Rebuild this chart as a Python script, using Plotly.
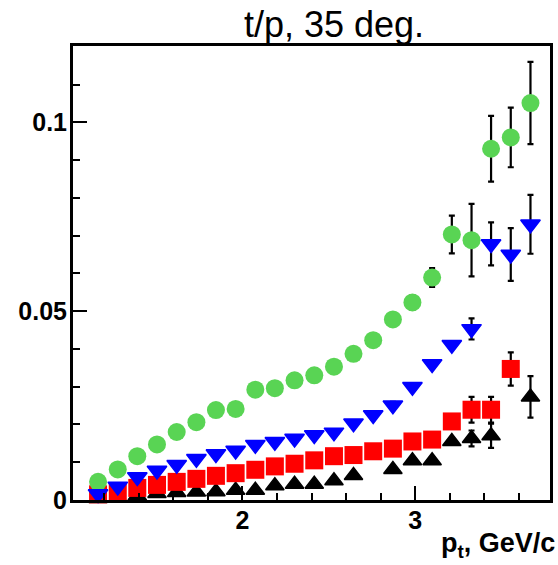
import plotly.graph_objects as go

# transverse momentum bin centres (GeV/c)
pt = [1.165, 1.279, 1.392, 1.506, 1.620, 1.734, 1.847, 1.961, 2.075, 2.188, 2.302, 2.416,
      2.530, 2.643, 2.757, 2.871, 2.984, 3.098, 3.212, 3.326, 3.439, 3.553, 3.667]

green_y = [0.0048, 0.0081, 0.0116, 0.0147, 0.0180, 0.0206, 0.0238, 0.0241, 0.0292, 0.0296, 0.0317, 0.0330,
           0.0353, 0.0387, 0.0423, 0.0478, 0.0523, 0.0589, 0.0703, 0.0688, 0.0930, 0.0960, 0.1051]
green_err = [0.0006, 0.0007, 0.0008, 0.0008, 0.0009, 0.0009, 0.0010, 0.0010, 0.0011, 0.0011, 0.0012, 0.0012,
             0.0013, 0.0014, 0.0015, 0.0017, 0.0019, 0.0025, 0.0050, 0.0096, 0.0087, 0.0079, 0.0109]

blue_y = [0.0016, 0.0036, 0.0061, 0.0078, 0.0093, 0.0109, 0.0122, 0.0131, 0.0146, 0.0154, 0.0163, 0.0172,
          0.0179, 0.0203, 0.0225, 0.0251, 0.0300, 0.0360, 0.0411, 0.0453, 0.0678, 0.0650, 0.0730]
blue_err = [0.0004, 0.0004, 0.0005, 0.0005, 0.0005, 0.0006, 0.0006, 0.0006, 0.0006, 0.0007, 0.0007, 0.0007,
            0.0007, 0.0008, 0.0008, 0.0009, 0.0009, 0.0010, 0.0010, 0.0028, 0.0057, 0.0070, 0.0078]

red_y = [0.0015, 0.0021, 0.0032, 0.0040, 0.0048, 0.0056, 0.0064, 0.0071, 0.0080, 0.0089, 0.0096, 0.0105,
         0.0116, 0.0119, 0.0129, 0.0136, 0.0155, 0.0160, 0.0208, 0.0239, 0.0239, 0.0347, None]
red_err = [0.0003, 0.0003, 0.0004, 0.0004, 0.0004, 0.0005, 0.0005, 0.0005, 0.0006, 0.0006, 0.0006, 0.0007,
           0.0007, 0.0007, 0.0008, 0.0008, 0.0009, 0.0010, 0.0015, 0.0034, 0.0034, 0.0044, None]

black_y = [0.0004, 0.0006, 0.0011, 0.0017, 0.0020, 0.0021, 0.0022, 0.0026, 0.0026, 0.0038, 0.0042, 0.0042,
           0.0051, 0.0065, None, 0.0081, 0.0104, 0.0104, 0.0155, 0.0163, 0.0170, None, 0.0273]
black_err = [0.0002, 0.0002, 0.0003, 0.0003, 0.0003, 0.0004, 0.0004, 0.0004, 0.0004, 0.0005, 0.0005, 0.0005,
             0.0006, 0.0006, None, 0.0007, 0.0008, 0.0008, 0.0009, 0.0021, 0.0032, None, 0.0055]

x_ticks = [2, 3]
y_ticks = [0, 0.05, 0.1]
y_tick_text = ["0", "0.05", "0.1"]

FONT = "Liberation Sans"

def series(y, err, symbol, color, size, lw=0):
    return go.Scatter(
        x=pt, y=y, mode="markers",
        marker=dict(symbol=symbol, color=color, size=size, line=dict(width=lw, color=color)),
        error_y=dict(type="data", array=err, visible=True, color="black", thickness=2.2, width=3),
        cliponaxis=False, showlegend=False, hoverinfo="skip",
    )

fig = go.Figure()
fig.add_trace(series(black_y, black_err, "triangle-up", "black", 16, 1.5))
fig.add_trace(series(red_y, red_err, "square", "#ff0000", 18))
fig.add_trace(series(green_y, green_err, "circle", "#59d454", 18))
fig.add_trace(series(blue_y, blue_err, "triangle-down", "#0000ff", 17, 1.5))

tickfont = dict(family=FONT, size=25, color="black", weight="bold")

fig.update_layout(
    width=558, height=565,
    margin=dict(l=73, r=5, t=46, b=65),
    plot_bgcolor="white", paper_bgcolor="white",
    title=dict(text="t/p, 35 deg.", font=dict(family=FONT, size=36, color="black"),
               x=334 / 558, xanchor="center", xref="container",
               y=1 - 24 / 565, yanchor="middle", yref="container"),
    xaxis=dict(range=[1.02, 3.78], tickvals=x_ticks, ticktext=[str(v) for v in x_ticks],
               ticks="inside", ticklen=14, tickwidth=2, tickcolor="black",
               minor=dict(dtick=0.2, tick0=0, ticks="inside", ticklen=7, tickwidth=2, tickcolor="black"),
               showline=True, linewidth=3, linecolor="black", mirror=True,
               showgrid=False, zeroline=False, tickfont=tickfont, ticklabelstandoff=-4),
    yaxis=dict(range=[0, 0.1202], tickvals=y_ticks, ticktext=y_tick_text,
               ticks="inside", ticklen=14, tickwidth=2, tickcolor="black",
               minor=dict(dtick=0.01, tick0=0, ticks="inside", ticklen=7, tickwidth=2, tickcolor="black"),
               showline=True, linewidth=3, linecolor="black", mirror=True,
               showgrid=False, zeroline=False, tickfont=tickfont, ticklabelstandoff=-2),
    annotations=[dict(text="p<sub>t</sub>, GeV/c", xref="paper", yref="paper", x=1, y=0,
                      xanchor="right", yanchor="top", xshift=7, yshift=-26, showarrow=False,
                      font=dict(family=FONT, size=27, color="black", weight="bold"))],
)

fig.write_html("out.html")
